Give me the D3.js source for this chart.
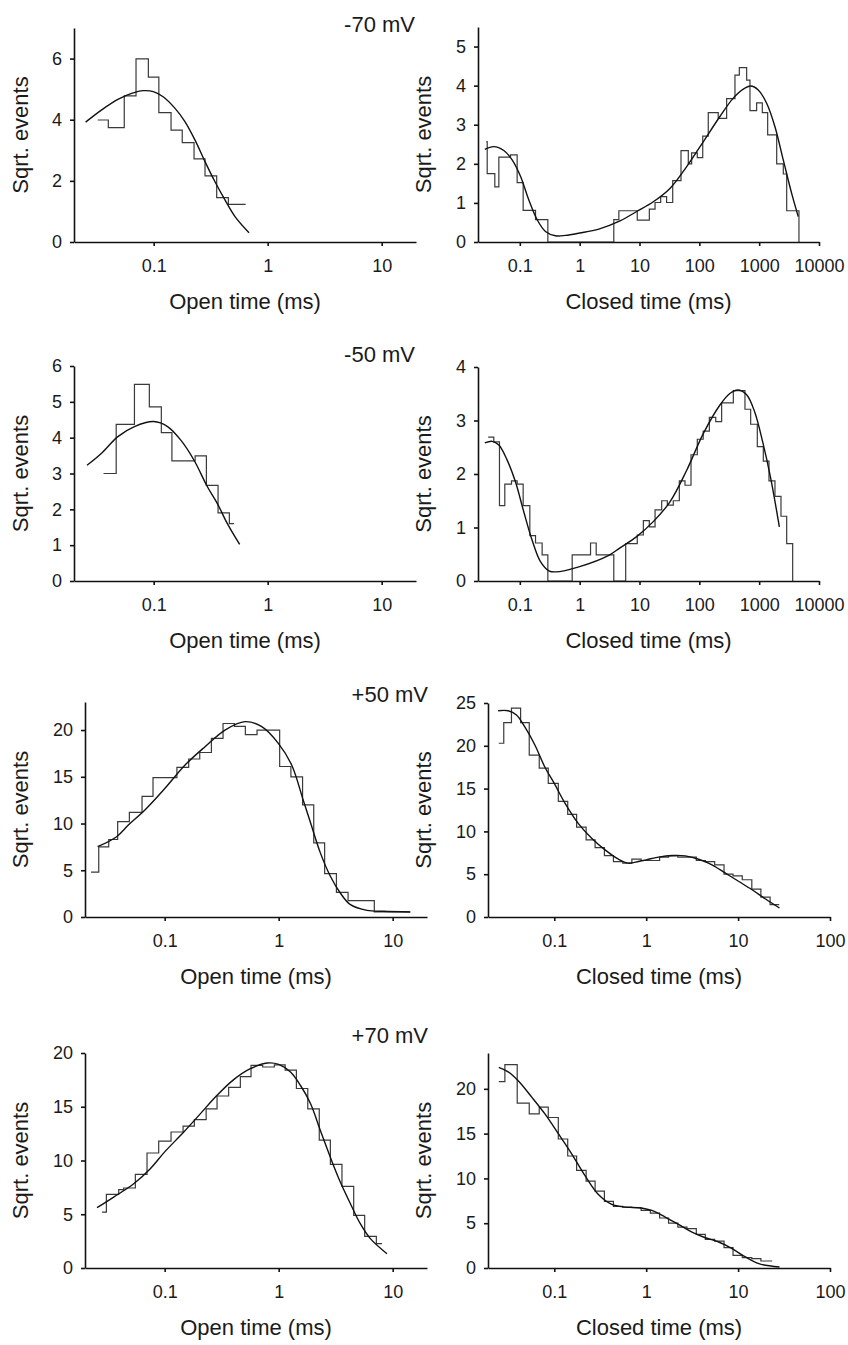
<!DOCTYPE html>
<html lang="en">
<head>
<meta charset="UTF-8">
<title>Dwell time histograms</title>
<script src="https://d3js.org/d3.v7.min.js"></script>
<style>
  body { margin: 0; background: #fff; }
  text { font-family: "Liberation Sans", Arial, sans-serif; fill: #1a1a1a; }
</style>
</head>
<body>
<div class="canvas"></div>
<script>
  // ---- data (times in ms, heights in sqrt(events)) ----
  const voltages = ['-70 mV', '-50 mV', '+50 mV', '+70 mV'];
  const openTicks = [0.1, 1, 10];
  const closedLongTicks = [0.1, 1, 10, 100, 1000, 10000];
  const closedShortTicks = [0.1, 1, 10, 100];

  // -70 mV
  const openNeg70Edges = [0.0323, 0.040, 0.0552, 0.070, 0.0898, 0.111, 0.142, 0.178, 0.226, 0.282, 0.357, 0.452, 0.641];
  const openNeg70Heights = [3.99, 3.74, 4.78, 5.99, 5.39, 4.23, 3.66, 3.25, 2.72, 2.16, 1.45, 1.23];
  const openNeg70FitTime = [0.0253, 0.035, 0.049, 0.064, 0.081, 0.0993, 0.121, 0.154, 0.188, 0.230, 0.282, 0.345, 0.423, 0.517, 0.686];
  const openNeg70FitSqrt = [3.92, 4.32, 4.67, 4.86, 4.95, 4.92, 4.75, 4.37, 3.94, 3.34, 2.63, 1.97, 1.37, 0.83, 0.30];

  const closedNeg70Edges = [0.0275, 0.0285, 0.0382, 0.0446, 0.0698, 0.0902, 0.1137, 0.183, 0.294, 3.72, 4.52, 9.18, 14.6, 18.2, 22.6, 28.4, 35.9, 49.4, 65.4, 74.4, 92.5, 114, 141, 207, 286, 394, 466, 618, 702, 907, 1128, 1387, 1963, 2531, 2884, 4624];
  const closedNeg70Heights = [2.57, 1.75, 1.41, 2.17, 2.23, 1.52, 0.81, 0.57, 0, 0.57, 0.80, 0.56, 0.84, 1.01, 1.16, 1.01, 1.57, 2.34, 2.0, 2.28, 2.16, 2.71, 3.31, 3.16, 3.67, 4.27, 4.46, 4.14, 3.36, 3.56, 3.31, 2.74, 2.0, 1.74, 0.80];
  const closedNeg70FitTime = [0.026, 0.0367, 0.054, 0.0744, 0.1026, 0.141, 0.195, 0.268, 0.394, 0.579, 1.0, 2.09, 4.72, 8.97, 17.0, 32.3, 61.5, 117, 221, 369, 543, 721, 966, 1334, 1836, 2528, 3483, 4498];
  const closedNeg70FitSqrt = [2.37, 2.44, 2.34, 2.10, 1.68, 1.08, 0.57, 0.27, 0.16, 0.17, 0.23, 0.33, 0.54, 0.78, 1.03, 1.37, 1.93, 2.57, 3.21, 3.68, 3.91, 3.99, 3.89, 3.55, 2.95, 2.10, 1.25, 0.65];

  // -50 mV
  const openNeg50Edges = [0.0363, 0.0469, 0.0678, 0.0916, 0.1167, 0.1445, 0.231, 0.290, 0.367, 0.461, 0.507];
  const openNeg50Heights = [3.0, 4.37, 5.49, 4.86, 4.14, 3.35, 3.49, 2.67, 1.90, 1.60];
  const openNeg50FitTime = [0.026, 0.0347, 0.0485, 0.0678, 0.1, 0.1324, 0.173, 0.226, 0.296, 0.362, 0.443, 0.568];
  const openNeg50FitSqrt = [3.23, 3.56, 4.03, 4.31, 4.45, 4.31, 3.93, 3.37, 2.63, 2.16, 1.60, 1.02];

  const closedNeg50Edges = [0.0296, 0.0367, 0.0457, 0.0561, 0.0726, 0.0902, 0.1137, 0.147, 0.183, 0.236, 0.294, 0.75, 1.52, 1.89, 3.72, 5.88, 9.18, 11.6, 14.6, 18.2, 23.5, 29.2, 36.7, 46.3, 57.6, 72.6, 92.5, 116, 147, 188, 236, 370, 579, 721, 931, 1173, 1459, 1837, 2316, 2884, 3631];
  const closedNeg50Heights = [2.69, 2.60, 1.41, 1.81, 1.87, 1.81, 1.41, 0.85, 0.71, 0.49, 0, 0.49, 0.71, 0.49, 0, 0.70, 0.86, 1.13, 1.01, 1.33, 1.50, 1.42, 1.50, 1.87, 1.79, 2.36, 2.65, 2.80, 3.06, 2.98, 3.33, 3.56, 3.21, 2.93, 2.51, 2.24, 1.87, 1.58, 1.21, 0.70];
  const closedNeg50FitTime = [0.026, 0.0345, 0.0446, 0.0614, 0.0847, 0.1167, 0.1607, 0.2215, 0.305, 0.394, 1.0, 3.07, 4.72, 8.97, 17.0, 32.3, 61.5, 117, 221, 327, 451, 618, 842, 1145, 1560, 2176];
  const closedNeg50FitSqrt = [2.58, 2.61, 2.54, 2.26, 1.85, 1.29, 0.76, 0.36, 0.19, 0.17, 0.27, 0.48, 0.62, 0.83, 1.11, 1.48, 2.07, 2.76, 3.29, 3.51, 3.57, 3.48, 3.16, 2.60, 1.92, 1.01];

  // +50 mV
  const openPos50Edges = [0.0226, 0.0264, 0.0323, 0.0387, 0.049, 0.0633, 0.079, 0.128, 0.1624, 0.203, 0.257, 0.325, 0.409, 0.51, 0.646, 1.02, 1.28, 1.62, 2.03, 2.53, 3.21, 4.06, 6.9, 14.1];
  const openPos50Heights = [4.79, 7.5, 8.29, 10.2, 11.2, 12.9, 14.9, 16.0, 16.9, 17.6, 19.1, 20.7, 20.4, 19.5, 20.0, 16.1, 15.0, 12.0, 7.93, 4.64, 2.64, 1.75, 0.54];
  const openPos50FitTime = [0.0258, 0.0379, 0.048, 0.0671, 0.1007, 0.151, 0.226, 0.338, 0.507, 0.71, 0.993, 1.30, 1.64, 1.90, 2.32, 2.84, 3.47, 4.26, 5.96, 8.34, 14.3];
  const openPos50FitSqrt = [7.52, 8.59, 9.84, 11.45, 13.77, 16.26, 18.22, 20.0, 20.9, 20.36, 18.58, 16.26, 12.52, 10.1, 6.86, 4.36, 2.57, 1.32, 0.71, 0.61, 0.54];

  const closedPos50Edges = [0.0249, 0.0282, 0.0342, 0.043, 0.0534, 0.0686, 0.086, 0.1106, 0.14, 0.175, 0.222, 0.278, 0.351, 0.44, 0.556, 0.698, 0.881, 1.11, 1.40, 1.75, 2.21, 2.78, 3.51, 4.40, 5.56, 7.03, 8.81, 11.1, 14.1, 17.7, 22.3, 28.0];
  const closedPos50Heights = [20.3, 22.7, 24.4, 22.7, 18.9, 17.4, 15.6, 13.5, 12.0, 10.5, 9.0, 8.1, 7.18, 6.48, 6.29, 6.75, 6.6, 6.6, 6.99, 7.14, 6.99, 6.99, 6.6, 6.48, 6.1, 5.0, 4.8, 4.35, 3.26, 2.33, 1.44];
  const closedPos50FitTime = [0.0245, 0.0315, 0.0388, 0.0478, 0.0615, 0.0791, 0.1, 0.1306, 0.183, 0.255, 0.357, 0.499, 0.641, 0.824, 1.0, 1.36, 1.91, 2.66, 3.72, 5.20, 7.28, 10.2, 14.2, 19.9, 28.2];
  const closedPos50FitSqrt = [24.1, 24.1, 23.6, 22.2, 20.1, 17.5, 15.6, 13.3, 10.9, 9.2, 7.84, 6.75, 6.29, 6.48, 6.68, 6.99, 7.18, 7.14, 6.75, 6.1, 5.12, 4.15, 3.18, 2.10, 1.05];

  // +70 mV
  const openPos70Edges = [0.0282, 0.0308, 0.0395, 0.0437, 0.0553, 0.07, 0.0886, 0.1137, 0.145, 0.182, 0.231, 0.288, 0.364, 0.461, 0.572, 0.724, 0.916, 1.14, 1.43, 1.80, 2.27, 2.84, 3.59, 4.55, 5.68, 7.19, 8.06];
  const openPos70Heights = [5.2, 6.85, 7.29, 7.44, 8.71, 10.7, 11.8, 12.65, 13.2, 13.8, 14.8, 16.0, 16.8, 17.8, 18.85, 18.7, 18.9, 18.4, 16.7, 14.8, 11.9, 9.64, 7.6, 4.9, 2.95, 2.26];
  const openPos70FitTime = [0.0255, 0.0357, 0.0535, 0.0748, 0.1, 0.147, 0.206, 0.288, 0.403, 0.564, 0.791, 1.0, 1.27, 1.55, 1.90, 2.32, 2.84, 3.47, 4.26, 5.20, 6.37, 8.91];
  const openPos70FitSqrt = [5.61, 6.6, 7.84, 9.24, 10.8, 12.65, 14.36, 16.06, 17.52, 18.54, 19.07, 18.95, 18.23, 17.0, 15.3, 12.8, 10.3, 8.0, 5.98, 4.12, 2.73, 1.33];

  const closedPos70Edges = [0.0249, 0.029, 0.0395, 0.0534, 0.0686, 0.086, 0.1106, 0.14, 0.175, 0.222, 0.278, 0.351, 0.44, 0.556, 0.698, 0.881, 1.11, 1.40, 1.75, 2.21, 2.78, 3.51, 4.40, 5.56, 7.03, 8.81, 11.1, 14.1, 17.7, 23.5];
  const closedPos70Heights = [20.8, 22.7, 18.4, 17.2, 17.95, 16.8, 14.4, 12.5, 10.9, 9.7, 8.59, 7.43, 6.88, 6.8, 6.73, 6.43, 6.13, 5.58, 5.02, 4.57, 4.39, 3.75, 3.2, 3.0, 2.27, 1.41, 1.15, 1.04, 0.78];
  const closedPos70FitTime = [0.0249, 0.0315, 0.0405, 0.0566, 0.0791, 0.1106, 0.1545, 0.216, 0.302, 0.422, 0.59, 0.824, 1.15, 1.61, 2.25, 3.15, 4.40, 6.15, 8.61, 12.0, 16.8, 28.2];
  const closedPos70FitSqrt = [22.4, 21.9, 20.9, 19.1, 17.2, 15.0, 12.75, 10.3, 8.2, 7.1, 6.8, 6.73, 6.43, 5.69, 4.87, 4.01, 3.38, 2.9, 2.16, 1.23, 0.48, 0.11];

  // ---- layout ----
  const width = 848, height = 1345;
  const colTitleX = [28, 431];   // baseline of rotated y titles

  const panels = [
    { col: 0, l: 74,  r: 416, t: 28,  b: 242,  xd: [0.02, 20],    yMax: 7,   yTicks: [0, 2, 4, 6],          xTicks: openTicks,        title: 'Open time (ms)',   volt: voltages[0],
      edges: openNeg70Edges, heights: openNeg70Heights, fitT: openNeg70FitTime, fitV: openNeg70FitSqrt, drop: false },
    { col: 1, l: 478, r: 819, t: 27,  b: 242,  xd: [0.02, 10000], yMax: 5.5, yTicks: [0, 1, 2, 3, 4, 5],    xTicks: closedLongTicks,  title: 'Closed time (ms)',
      edges: closedNeg70Edges, heights: closedNeg70Heights, fitT: closedNeg70FitTime, fitV: closedNeg70FitSqrt, drop: true },
    { col: 0, l: 74,  r: 416, t: 366, b: 581,  xd: [0.02, 20],    yMax: 6,   yTicks: [0, 1, 2, 3, 4, 5, 6], xTicks: openTicks,        title: 'Open time (ms)',   volt: voltages[1],
      edges: openNeg50Edges, heights: openNeg50Heights, fitT: openNeg50FitTime, fitV: openNeg50FitSqrt, drop: false },
    { col: 1, l: 478, r: 819, t: 367, b: 581,  xd: [0.02, 10000], yMax: 4,   yTicks: [0, 1, 2, 3, 4],       xTicks: closedLongTicks,  title: 'Closed time (ms)',
      edges: closedNeg50Edges, heights: closedNeg50Heights, fitT: closedNeg50FitTime, fitV: closedNeg50FitSqrt, drop: true },
    { col: 0, l: 85,  r: 427, t: 702, b: 917,  xd: [0.02, 20],    yMax: 23,  yTicks: [0, 5, 10, 15, 20],    xTicks: openTicks,        title: 'Open time (ms)',   volt: voltages[2],
      edges: openPos50Edges, heights: openPos50Heights, fitT: openPos50FitTime, fitV: openPos50FitSqrt, drop: false },
    { col: 1, l: 488, r: 830, t: 703, b: 917,  xd: [0.019, 100],  yMax: 25,  yTicks: [0, 5, 10, 15, 20, 25], xTicks: closedShortTicks, title: 'Closed time (ms)',
      edges: closedPos50Edges, heights: closedPos50Heights, fitT: closedPos50FitTime, fitV: closedPos50FitSqrt, drop: false },
    { col: 0, l: 85,  r: 427, t: 1053, b: 1268, xd: [0.02, 20],   yMax: 20,  yTicks: [0, 5, 10, 15, 20],    xTicks: openTicks,        title: 'Open time (ms)',   volt: voltages[3],
      edges: openPos70Edges, heights: openPos70Heights, fitT: openPos70FitTime, fitV: openPos70FitSqrt, drop: false },
    { col: 1, l: 488, r: 830, t: 1053, b: 1268, xd: [0.019, 100], yMax: 24,  yTicks: [0, 5, 10, 15, 20],    xTicks: closedShortTicks, title: 'Closed time (ms)',
      edges: closedPos70Edges, heights: closedPos70Heights, fitT: closedPos70FitTime, fitV: closedPos70FitSqrt, drop: false }
  ];
  const voltPos = [[415, 32], [415, 362], [428, 702], [428, 1043]];

  const svg = d3.select('.canvas')
                .append('svg')
                .attr('width', width)
                .attr('height', height)
                .style('display', 'block');

  svg.append('rect').attr('width', width).attr('height', height).attr('fill', '#fff');

  let voltIdx = 0;
  panels.forEach(p => {
    const x = d3.scaleLog().domain(p.xd).range([p.l, p.r]);
    const y = d3.scaleLinear().domain([0, p.yMax]).range([p.b, p.t]);
    const g = svg.append('g');

    // histogram as a step line
    const n = p.heights.length;
    const pts = p.edges.map((e, i) => [e, p.heights[Math.min(i, n - 1)]]);
    if (p.drop) pts.push([p.edges[n], 0]);
    const step = d3.line().x(d => x(d[0])).y(d => y(d[1])).curve(d3.curveStepAfter);
    g.append('path')
      .attr('d', step(pts))
      .attr('fill', 'none')
      .attr('stroke', '#3a3a3a')
      .attr('stroke-width', 1.2);

    // fitted curve
    const fit = d3.line().x(d => x(d[0])).y(d => y(d[1])).curve(d3.curveCatmullRom.alpha(0.5));
    g.append('path')
      .attr('d', fit(p.fitT.map((t, i) => [t, p.fitV[i]])))
      .attr('fill', 'none')
      .attr('stroke', '#111')
      .attr('stroke-width', 1.4);

    // axes
    const xAxis = g.append('g')
      .attr('transform', `translate(0,${p.b})`)
      .call(d3.axisBottom(x).tickValues(p.xTicks).tickFormat(d => String(d))
        .tickSize(4).tickSizeOuter(0).tickPadding(13));
    const yAxis = g.append('g')
      .attr('transform', `translate(${p.l},0)`)
      .call(d3.axisLeft(y).tickValues(p.yTicks).tickFormat(d => String(d))
        .tickSize(4).tickSizeOuter(0).tickPadding(8));
    [xAxis, yAxis].forEach(a => {
      a.selectAll('path, line').attr('stroke', '#111').attr('stroke-width', 1.6);
      a.selectAll('text').attr('font-size', 18).attr('font-family', '"Liberation Sans", Arial, sans-serif').attr('fill', '#1a1a1a');
    });

    // titles
    g.append('text')
      .attr('x', (p.l + p.r) / 2)
      .attr('y', p.b + 67)
      .attr('text-anchor', 'middle')
      .attr('font-size', 22)
      .text(p.title);
    g.append('text')
      .attr('transform', `translate(${colTitleX[p.col]},${(p.t + p.b) / 2}) rotate(-90)`)
      .attr('text-anchor', 'middle')
      .attr('font-size', 22)
      .text('Sqrt. events');

    if (p.volt) {
      const [vx, vy] = voltPos[voltIdx++];
      g.append('text')
        .attr('x', vx).attr('y', vy)
        .attr('text-anchor', 'end')
        .attr('font-size', 22)
        .text(p.volt);
    }
  });
</script>
</body>
</html>
